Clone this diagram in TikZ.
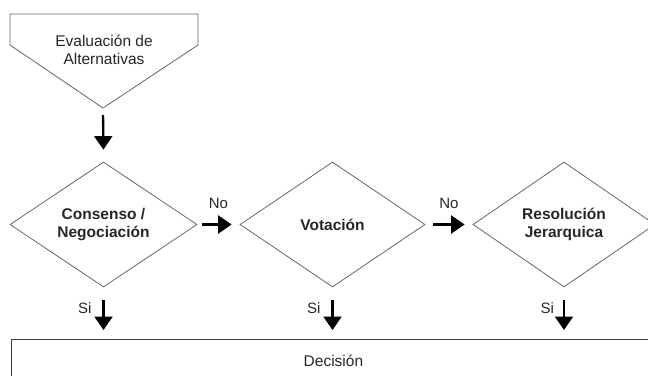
\documentclass[tikz,border=0pt]{standalone}
\usepackage{fontspec}
\setmainfont{Liberation Sans}
\usetikzlibrary{shapes.geometric,arrows.meta}
\begin{document}
\begin{tikzpicture}[x=1pt,y=-1pt,
  every node/.style={font=\fontsize{15.5}{17.5}\selectfont, text=black!85, inner sep=0pt},
  outline/.style={draw=black!60, line width=0.8pt, line join=miter},
  choice/.style={diamond, outline, align=center, font=\fontsize{15.5}{18}\selectfont\bfseries},
  flow/.style={line width=2.3pt, -{Triangle[width=18pt,length=13.5pt]}},
  tag/.style={font=\fontsize{15}{17}\selectfont}
]
\useasboundingbox (0,0) rectangle (648,375);

% off-page connector at the top
\draw[outline] (10,14) -- (198,14) -- (198,45) -- (103,108) -- (10,45) -- cycle;
\node[align=center] (eval) at (104,50) {Evaluación de\\Alternativas};
\coordinate (evaltip) at (103,108);

% decision diamonds
\node[choice, minimum width=187pt, minimum height=125pt] (cons) at (103.5,224.5) {Consenso /\\Negociación};
\node[choice, minimum width=185pt, minimum height=125pt] (vot) at (332.5,224.5) {Votación};
\node[choice, minimum width=182pt, minimum height=125pt] (jer) at (564,224.5) {Resolución\\Jerarquica};

% final box
\node[draw=black!75, line width=0.9pt, minimum width=644pt, minimum height=42pt, anchor=north west] (dec) at (11,339) {Decisión};

% connectors
\draw[flow, shorten <=7pt, shorten >=12pt] (evaltip) -- (cons.north);
\draw[flow, shorten <=5pt, shorten >=8pt] (cons.east) -- node[tag, midway, above=15pt] {No} (vot.west);
\draw[flow, shorten <=8pt, shorten >=8pt] (vot.east) -- node[tag, midway, above=15pt] {No} (jer.west);
\draw[flow, shorten <=13pt, shorten >=9pt] (cons.south) -- node[tag, pos=0.4, left=11pt] {Si} (dec.north -| cons.south);
\draw[flow, shorten <=13pt, shorten >=9pt] (vot.south) -- node[tag, pos=0.4, left=11pt] {Si} (dec.north -| vot.south);
\draw[flow, shorten <=13pt, shorten >=9pt] (jer.south) -- node[tag, pos=0.4, left=9pt] {Si} (dec.north -| jer.south);
\end{tikzpicture}
\end{document}
